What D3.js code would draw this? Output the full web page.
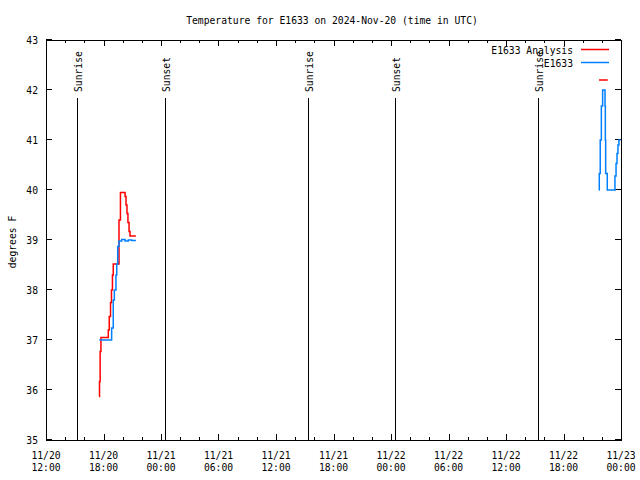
<!DOCTYPE html>
<html><head><meta charset="utf-8">
<script src="https://cdn.jsdelivr.net/npm/d3@7"></script>
<style>
body{margin:0;background:#fff}
svg text{font-family:"DejaVu Sans Mono",monospace;font-size:9.7px;fill:#000}
</style>
</head><body>
<svg id="chart" width="640" height="480"></svg>
<script>
const title = "Temperature for E1633 on 2024-Nov-20 (time in UTC)";
const yLabel = "degrees F";
const seriesNames = ["E1633 Analysis", "E1633"];
const seriesColors = ["#ff0000", "#0080ff"];

const xDomain = ["2024-11-20T12:00Z", "2024-11-23T00:00Z"];
const xTickTimes = ["2024-11-20T12:00Z","2024-11-20T18:00Z","2024-11-21T00:00Z","2024-11-21T06:00Z",
  "2024-11-21T12:00Z","2024-11-21T18:00Z","2024-11-22T00:00Z","2024-11-22T06:00Z",
  "2024-11-22T12:00Z","2024-11-22T18:00Z","2024-11-23T00:00Z"];
const xTickLabels = [["11/20","12:00"],["11/20","18:00"],["11/21","00:00"],["11/21","06:00"],
  ["11/21","12:00"],["11/21","18:00"],["11/22","00:00"],["11/22","06:00"],
  ["11/22","12:00"],["11/22","18:00"],["11/23","00:00"]];
const yTicks = [35, 36, 37, 38, 39, 40, 41, 42, 43];

const sunTimes = ["2024-11-20T15:17Z","2024-11-21T00:25Z","2024-11-21T15:18Z","2024-11-22T00:25Z","2024-11-22T15:19Z"];
const sunLabels = ["Sunrise","Sunset","Sunrise","Sunset","Sunrise"];

// E1633 Analysis (null = gap)
const analysisTimes = ["2024-11-20T17:32Z","2024-11-20T17:35Z","2024-11-20T17:39Z","2024-11-20T17:44Z",
  "2024-11-20T18:30Z","2024-11-20T18:36Z","2024-11-20T18:44Z","2024-11-20T18:50Z","2024-11-20T18:56Z",
  "2024-11-20T19:01Z","2024-11-20T19:37Z","2024-11-20T19:46Z","2024-11-20T20:15Z","2024-11-20T20:21Z",
  "2024-11-20T20:27Z","2024-11-20T20:33Z","2024-11-20T20:40Z","2024-11-20T20:46Z","2024-11-20T21:23Z",
  "2024-11-21T12:00Z",
  "2024-11-22T21:42Z","2024-11-22T22:37Z"];
const analysisValues = [35.87, 36.17, 36.77, 37.05,
  37.2, 37.47, 37.75, 38.0, 38.3,
  38.52, 39.4, 39.95, 39.87, 39.7,
  39.53, 39.35, 39.17, 39.08, 39.08,
  null,
  42.2, 42.2];

// E1633 observations (null = gap)
const obsTimes = ["2024-11-20T17:34Z","2024-11-20T18:51Z","2024-11-20T19:01Z","2024-11-20T19:08Z",
  "2024-11-20T19:18Z","2024-11-20T19:23Z","2024-11-20T19:29Z","2024-11-20T19:37Z","2024-11-20T19:54Z",
  "2024-11-20T20:15Z","2024-11-20T20:35Z","2024-11-20T20:57Z","2024-11-20T21:23Z",
  "2024-11-21T12:00Z",
  "2024-11-22T21:42Z","2024-11-22T21:44Z","2024-11-22T21:50Z","2024-11-22T21:57Z","2024-11-22T22:05Z",
  "2024-11-22T22:20Z","2024-11-22T22:22Z","2024-11-22T22:24Z","2024-11-22T22:34Z","2024-11-22T23:22Z",
  "2024-11-22T23:29Z","2024-11-22T23:35Z","2024-11-22T23:41Z","2024-11-22T23:47Z","2024-11-22T23:57Z"];
const obsValues = [37.0, 37.24, 37.8, 38.0,
  38.3, 38.52, 38.87, 38.98, 39.01,
  38.98, 39.0, 38.99, 38.99,
  null,
  40.0, 40.33, 41.0, 41.68, 42.0,
  41.68, 41.0, 40.33, 40.0, 40.28,
  40.53, 40.73, 40.9, 41.0, 41.0];

const svg = d3.select("#chart");
const L = 46, R = 621, T = 40, B = 440;
const x = d3.scaleUtc().domain(xDomain.map(d => new Date(d))).range([L, R]);
const y = d3.scaleLinear().domain([35, 43]).range([B, T]);
const px = v => Math.round(v) + 0.5;

// title
svg.append("text").attr("x", 332).attr("y", 23.5).attr("text-anchor", "middle").text(title);

// y label
svg.append("text").attr("transform", "translate(15.5,242) rotate(-90)")
  .attr("text-anchor", "middle").text(yLabel);

const g = svg.append("g");

// x axis via d3 (bottom), custom styled
const majorDates = xTickTimes.map(d => new Date(d));
const minorDates = d3.utcHour.every(2).range(x.domain()[0], x.domain()[1])
  .filter(d => d.getUTCHours() % 6 !== 0);

const xAxis = d3.axisBottom(x).tickValues(majorDates).tickSize(0).tickFormat("");
const ax = g.append("g").attr("transform", `translate(0,${B})`).call(xAxis);
ax.select(".domain").remove();

// tick labels (two lines)
majorDates.forEach((d, i) => {
  const t = svg.append("text").attr("text-anchor", "middle");
  t.append("tspan").attr("x", x(d)).attr("y", 458.5).text(xTickLabels[i][0]);
  t.append("tspan").attr("x", x(d)).attr("y", 470.5).text(xTickLabels[i][1]);
});

const tickG = g.append("g").attr("stroke", "#000").attr("stroke-width", 1);
function xtick(d, len) {
  const xx = px(x(d));
  tickG.append("line").attr("x1", xx).attr("x2", xx).attr("y1", B).attr("y2", B - len);
  tickG.append("line").attr("x1", xx).attr("x2", xx).attr("y1", T).attr("y2", T + len);
}
majorDates.forEach(d => xtick(d, 6));
minorDates.forEach(d => xtick(d, 3));

// y ticks
yTicks.forEach(v => {
  const yy = px(y(v)) - 1;
  tickG.append("line").attr("x1", L).attr("x2", L + 6).attr("y1", yy).attr("y2", yy);
  tickG.append("line").attr("x1", R - 6).attr("x2", R).attr("y1", yy).attr("y2", yy);
  svg.append("text").attr("x", 38).attr("y", y(v) + 3.5).attr("text-anchor", "end").text(v);
});

// sunrise/sunset lines
sunTimes.forEach((s, i) => {
  const xx = px(x(new Date(s)));
  g.append("line").attr("x1", xx).attr("x2", xx).attr("y1", 98).attr("y2", B)
    .attr("stroke", "#000").attr("stroke-width", 1);
  svg.append("text").attr("transform", `translate(${xx + 4},92) rotate(-90)`)
    .attr("text-anchor", "start").text(sunLabels[i]);
});

// frame
g.append("rect").attr("x", L + 0.5).attr("y", T + 0.5).attr("width", R - L).attr("height", B - T)
  .attr("fill", "none").attr("stroke", "#000").attr("stroke-width", 1);

// series
const line = d3.line()
  .defined(d => d[1] !== null)
  .x(d => x(d[0])).y(d => y(d[1]))
  .curve(d3.curveStepAfter);

const series = [
  analysisTimes.map((t, i) => [new Date(t), analysisValues[i]]),
  obsTimes.map((t, i) => [new Date(t), obsValues[i]])
];
series.forEach((s, i) => {
  g.append("path").attr("d", line(s)).attr("fill", "none")
    .attr("stroke", seriesColors[i]).attr("stroke-width", 1.5);
});

// legend
seriesNames.forEach((n, i) => {
  const yy = 49.5 + i * 13;
  svg.append("text").attr("x", 573).attr("y", yy + 4).attr("text-anchor", "end").text(n);
  svg.append("line").attr("x1", 581).attr("x2", 609).attr("y1", yy).attr("y2", yy)
    .attr("stroke", seriesColors[i]).attr("stroke-width", 1.5);
});
</script>
</body></html>
